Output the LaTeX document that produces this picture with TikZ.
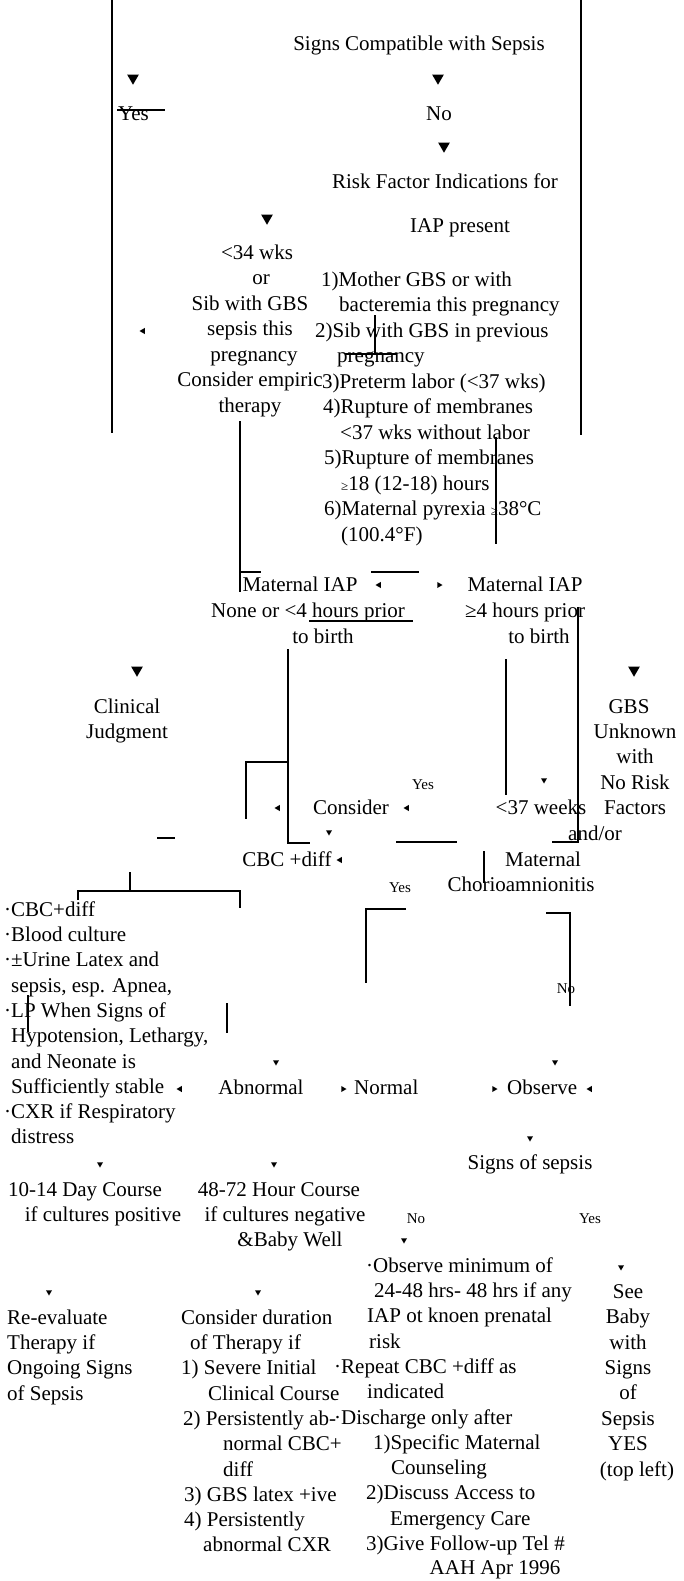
\documentclass[tikz,border=0pt]{standalone}
\usepackage{fontspec}
\setmainfont{Liberation Serif}
\usepackage{tikz}
\usetikzlibrary{shapes.geometric}

\newcommand\txtfont{\fontsize{21}{25.3}\selectfont}
\newcommand\toptxtfont{\fontsize{21}{25.5}\selectfont}
\newcommand\notefont{\fontsize{15}{18}\selectfont}
\newcommand\smallgeq{{\fontsize{13}{13}\selectfont ≥}}

\begin{document}
\begin{tikzpicture}[
    x=1pt, y=-1pt,
    lbl/.style={inner sep=0pt, font=\txtfont, anchor=base},
    lblw/.style={inner sep=0pt, font=\txtfont, anchor=base west},
    block/.style={inner sep=0pt, font=\txtfont, anchor=north, align=center},
    blockw/.style={inner sep=0pt, font=\txtfont, anchor=north west, align=left},
    note/.style={inner sep=0pt, font=\notefont, anchor=base},
    bigdn/.style={regular polygon, regular polygon sides=3, shape border rotate=180, fill=black, inner sep=0pt, minimum size=13.5pt},
    tri/.style={regular polygon, regular polygon sides=3, fill=black, inner sep=0pt, minimum size=7pt},
    seg/.style={line width=2.2pt}
]
\useasboundingbox (0,0) rectangle (683,1581);

% Top decision
\node[lbl] (signs) at (419,51) {Signs Compatible with Sepsis};
\node[lblw] (yes1) at (118,121) {Yes};
\node[lbl] (no1) at (439,121) {No};
\node[lbl] (risk) at (445,189) {Risk Factor Indications for};
\node[lbl] (iap) at (460,232) {IAP present};

% Risk factors
\node[block, font=\toptxtfont] (early) at (250,241.2) {\strut\hspace*{14pt}<34 wks\\\hspace*{22pt}or\\Sib with GBS\hspace*{18pt}\\sepsis this\\\hspace*{8pt}pregnancy\\Consider empiric\hspace*{24pt}\\therapy};
\node[blockw, font=\toptxtfont] (factors) at (315,268.2) {\strut\hspace*{6pt}1)Mother GBS or with\\\hspace*{24pt}bacteremia this pregnancy\\2)Sib with GBS in previous\\\hspace*{22pt}pregnancy\\\hspace*{7pt}3)Preterm labor (<37 wks)\\\hspace*{8pt}4)Rupture of membranes\\\hspace*{25pt}<37 wks without labor\\\hspace*{9pt}5)Rupture of membranes\\\hspace*{26pt}\smallgeq18 (12-18) hours\\\hspace*{9pt}6)Maternal pyrexia \smallgeq38°C\\\hspace*{26pt}(100.4°F)};

% Maternal IAP
\node[block, font=\fontsize{21}{26}\selectfont] (iapless) at (308,572.8) {\strut Maternal IAP\hspace*{16pt}\\None or <4 hours prior\\\hspace*{30pt}to birth};
\node[block, font=\fontsize{21}{26}\selectfont] (iapmore) at (525,572.8) {\strut Maternal IAP\\≥4 hours prior\\\hspace*{28pt}to birth};

% Middle row
\node[block] (clin) at (127,695.3) {\strut Clinical\\Judgment};
\node[block] (unknown) at (635,695.3) {\strut GBS\hspace*{12pt}\\Unknown\\with\\No Risk\\Factors};
\node[lbl] (andor) at (595,840) {and/or};
\node[lbl] (consider) at (351,814) {Consider};
\node[lbl] (weeks) at (541,814) {<37 weeks};
\node[lbl] (cbc) at (287,866) {CBC +diff};
\node[lbl] (mat) at (543,866) {Maternal};
\node[lbl] (chorio) at (521,891) {Chorioamnionitis};
\node[note] (yes2) at (423,789) {Yes};
\node[note] (yes3) at (400,892) {Yes};
\node[note] (no2) at (566,993) {No};

% Work-up
\node[blockw] (workup) at (4,898.3) {\strut ·CBC+diff\\·Blood culture\\·±Urine Latex and\\\phantom{·}sepsis, esp. Apnea,\\·LP When Signs of\\\phantom{·}Hypotension, Lethargy,\\\phantom{·}and Neonate is\\\phantom{·}Sufficiently stable\\·CXR if Respiratory\\\phantom{·}distress};
\node[lbl] (abn) at (261,1094) {Abnormal};
\node[lblw] (norm) at (354,1094) {Normal};
\node[lblw] (obs) at (507,1094) {Observe};
\node[lbl] (sos) at (530,1169) {Signs of sepsis};

% Courses
\node[block] (course1) at (94,1178.3) {\strut 10-14 Day Course\hspace*{18pt}\\\hspace*{18pt}if cultures positive};
\node[block] (course2) at (285,1178.3) {\strut 48-72 Hour Course\hspace*{12pt}\\if cultures negative\\\hspace*{10pt}\&Baby Well};
\node[note] (no3) at (416,1223) {No};
\node[note] (yes4) at (590,1223) {Yes};

% Bottom row
\node[blockw] (reeval) at (7,1306.3) {\strut Re-evaluate\\Therapy if\\Ongoing Signs\\of Sepsis};
\node[blockw] (duration) at (181,1306.3) {\strut Consider duration\\\hspace*{9pt}of Therapy if\\1) Severe Initial\\\hspace*{27pt}Clinical Course\\\hspace*{2pt}2) Persistently ab-\\\hspace*{42pt}normal CBC+\\\hspace*{42pt}diff\\\hspace*{3pt}3) GBS latex +ive\\\hspace*{3pt}4) Persistently\\\hspace*{22pt}abnormal CXR};
\node[blockw] (observe) at (334,1254.3) {\strut\hspace*{32pt}·Observe minimum of\\\hspace*{40pt}24-48 hrs- 48 hrs if any\\\hspace*{33pt}IAP ot knoen prenatal\\\hspace*{35pt}risk\\·Repeat CBC +diff as\\\hspace*{33pt}indicated\\·Discharge only after\\\hspace*{39pt}1)Specific Maternal\\\hspace*{57pt}Counseling\\\hspace*{32pt}2)Discuss Access to\\\hspace*{56pt}Emergency Care\\\hspace*{32pt}3)Give Follow-up Tel \#};
\node[block, font=\fontsize{21}{25.4}\selectfont] (seebaby) at (628,1280.3) {\strut See\\Baby\\with\\Signs\\of\\Sepsis\\YES\\\hspace*{18pt}(top left)};
\node[lbl] (sign) at (495,1574) {AAH Apr 1996};

% Arrow heads
\foreach \x/\y [count=\i] in {133/78, 438/78, 444/146, 267/218, 137/670, 634/670}
  \node[bigdn] (bd\i) at (\x,\y) {};
\foreach \x/\y [count=\i] in {544/780, 329/832, 276/1062, 555/1062, 530/1138, 100/1164, 274/1164, 404/1240, 621/1267, 49/1292, 258/1292}
  \node[tri, shape border rotate=180] (sd\i) at (\x,\y) {};
\foreach \x/\y [count=\i] in {143/331, 379/585, 278/808, 407/808, 340/860, 180/1089, 590/1089}
  \node[tri, shape border rotate=90] (sl\i) at (\x,\y) {};
\foreach \x/\y [count=\i] in {439/585, 343/1089, 494/1089}
  \node[tri, shape border rotate=-90] (sr\i) at (\x,\y) {};

% Lines
\draw[seg] (112,0) -- (112,433);
\draw[seg] (581,0) -- (581,435);
\draw[seg] (117,110) -- (165,110);
\draw[seg] (375,315) -- (375,354);
\draw[seg] (345,354) -- (396,354);
\draw[seg] (240,421) -- (240,592);
\draw[seg] (240,572) -- (261,572);
\draw[seg] (496,437) -- (496,544);
\draw[seg] (371,572) -- (419,572);
\draw[seg] (309,621) -- (413,621);
\draw[seg] (578,607) -- (578,842) -- (552,842);
\draw[seg] (288,649) -- (288,843) -- (310,843);
\draw[seg] (506,659) -- (506,795);
\draw[seg] (288,762) -- (246,762) -- (246,819);
\draw[seg] (157,838) -- (175,838);
\draw[seg] (396,842) -- (457,842);
\draw[seg] (484,851) -- (484,883);
\draw[seg] (130,872) -- (130,891);
\draw[seg] (78,900) -- (78,891) -- (240,891) -- (240,908);
\draw[seg] (406,909) -- (366,909) -- (366,983);
\draw[seg] (546,913) -- (570,913) -- (570,1006);
\draw[seg] (28,995) -- (28,1032);
\draw[seg] (227,1003) -- (227,1033);

\end{tikzpicture}
\end{document}
